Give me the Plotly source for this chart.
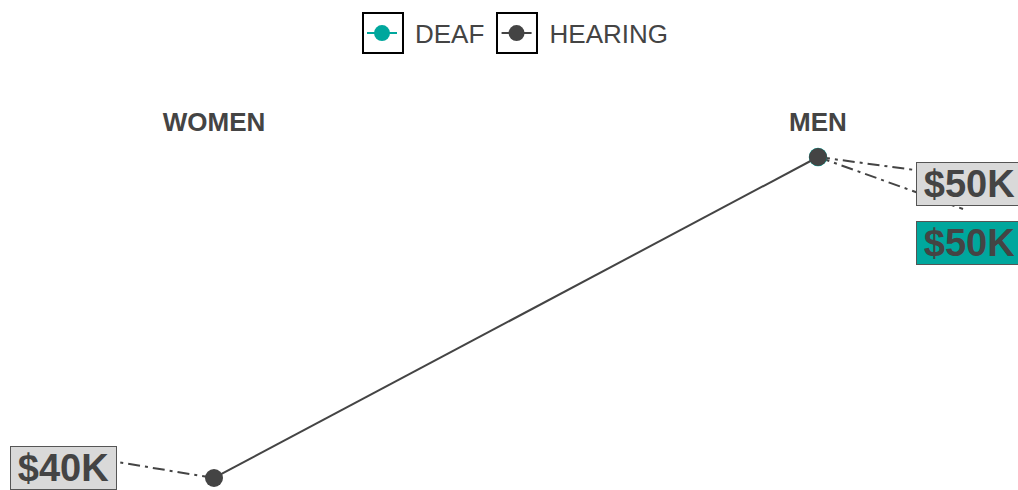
import plotly.graph_objects as go

categories = ["WOMEN", "MEN"]
deaf = [None, 50]      # $K (women value not shown in chart)
hearing = [40, 50]     # $K
label_text = ["$40K", "$50K"]

TEAL = "#00A79D"
DARK = "#444444"
GRAY_BG = "#D9D9D9"
FONT = "Liberation Sans, Arial, sans-serif"

fig = go.Figure()
fig.add_trace(go.Scatter(
    x=categories, y=deaf, name="\u2002DEAF\u00a0", mode="lines+markers",
    line=dict(color=TEAL, width=2), marker=dict(color=TEAL, size=18.5),
    cliponaxis=False))
fig.add_trace(go.Scatter(
    x=categories, y=hearing, name="\u2002HEARING", mode="lines+markers",
    line=dict(color=DARK, width=2), marker=dict(color=DARK, size=18),
    cliponaxis=False))

# connectors (pixel offsets anchored to data points)
conn = [
    (categories[1], hearing[1], 97, -13),
    (categories[1], deaf[1], 145, -52),
    (categories[0], hearing[0], -97, 16),
]
for cx, cy, dx, dy in conn:
    fig.add_shape(type="line", xref="x", yref="y", xsizemode="pixel", ysizemode="pixel",
                  xanchor=cx, yanchor=cy, x0=0, y0=0, x1=dx, y1=dy, layer="below",
                  line=dict(color=DARK, width=2, dash="12px,5px,3px,5px"))

# labels
labels = [
    (categories[1], deaf[1], label_text[1], TEAL, 151.5, -85.5),
    (categories[1], hearing[1], label_text[1], GRAY_BG, 151.5, -26.5),
    (categories[0], hearing[0], label_text[0], GRAY_BG, -150.5, 9.5),
]
for lx, ly, txt, bg, xs, ys in labels:
    fig.add_annotation(x=lx, y=ly, text="<b>%s</b>" % txt, showarrow=False,
                       xshift=xs, yshift=ys, bgcolor=bg, bordercolor="#555555",
                       borderwidth=1, borderpad=0, width=105,
                       font=dict(family=FONT, size=38, color=DARK))

# legend symbol boxes
for x0, x1 in ((0.35658, 0.39587), (0.48821, 0.52750)):
    fig.add_shape(type="rect", xref="paper", yref="paper",
                  x0=x0, x1=x1, y0=1.23796, y1=1.35127,
                  line=dict(color="black", width=2))

fig.update_layout(
    width=1018, height=490,
    margin=dict(l=0, r=0, t=137, b=0),
    paper_bgcolor="white", plot_bgcolor="white",
    showlegend=True,
    legend=dict(orientation="h", x=0.35560, xanchor="left", y=1.36076, yanchor="top",
                bgcolor="rgba(0,0,0,0)",
                font=dict(family=FONT, size=26, color=DARK), itemwidth=30),
    xaxis=dict(type="category", range=[-0.3543, 1.3311], side="top", showgrid=False,
               zeroline=False, showline=False, ticks="",
               tickfont=dict(family=FONT, size=26, color=DARK)),
    yaxis=dict(range=[39.626, 50.623], visible=False, showgrid=False, zeroline=False),
)
fig.update_xaxes(tickvals=categories, ticktext=["<b>%s</b>" % c for c in categories])

fig.write_html("out.html", config={"displayModeBar": False},
               post_script="document.body.style.margin='0';document.body.style.overflow='hidden';")
